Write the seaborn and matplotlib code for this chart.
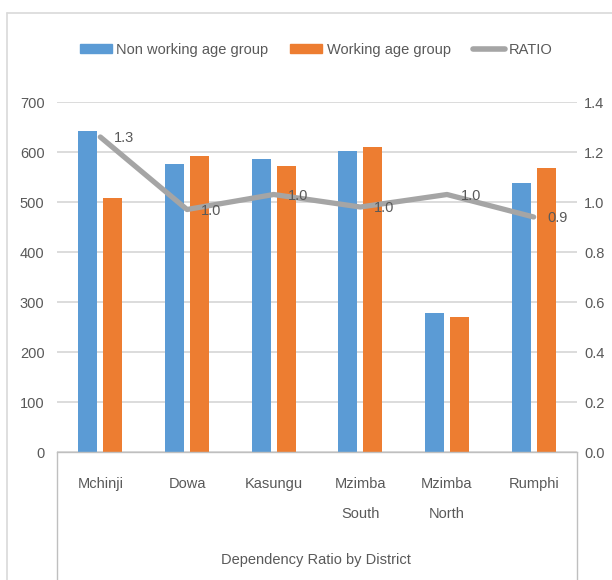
import matplotlib
matplotlib.use("Agg")
import matplotlib.pyplot as plt
from matplotlib.patches import Patch
from matplotlib.lines import Line2D
import pandas as pd
import seaborn as sns

districts = ["Mchinji", "Dowa", "Kasungu", "Mzimba\nSouth", "Mzimba\nNorth", "Rumphi"]
non_working = [643, 577, 587, 603, 279, 539]
working = [509, 592, 572, 610, 271, 569]
ratio = [1.26, 0.97, 1.03, 0.98, 1.03, 0.94]
groups = ["Non working age group", "Working age group"]

BLUE = "#5B9BD5"
ORANGE = "#ED7D31"
GREY = "#A5A5A5"
TEXT = "#595959"
FS = 10.5

sns.set_theme(style="white")
plt.rcParams["font.family"] = ["Liberation Sans", "DejaVu Sans"]
plt.rcParams["text.color"] = TEXT
plt.rcParams["xtick.color"] = TEXT
plt.rcParams["ytick.color"] = TEXT

df = pd.DataFrame({
    "District": districts * 2,
    "Group": [groups[0]] * len(districts) + [groups[1]] * len(districts),
    "Count": non_working + working,
})

fig = plt.figure(figsize=(6.12, 5.8), dpi=100)
ax = fig.add_axes([57 / 612, 1 - 452 / 580, 520 / 612, 350 / 580])

sns.barplot(data=df, x="District", y="Count", hue="Group", order=districts,
            hue_order=groups, palette=[BLUE, ORANGE], saturation=1,
            width=0.576, gap=0.25, linewidth=0, errorbar=None, legend=False, ax=ax)

ax.set_ylim(0, 700)
ax.set_yticks(range(0, 701, 100))
ax.yaxis.grid(True, color="#D9D9D9", lw=1.3)
ax.set_axisbelow(True)
for s in ["left", "right", "top"]:
    ax.spines[s].set_visible(False)
ax.spines["bottom"].set_color("#BFBFBF")
ax.spines["bottom"].set_linewidth(1)
ax.tick_params(axis="y", length=0, pad=9, labelsize=FS)
ax.set_xlabel("")
ax.set_ylabel("")

# category box lines below the axis
for xv in [0, 1]:
    ax.plot([xv, xv], [0, -0.4], transform=ax.transAxes, color="#BFBFBF",
            lw=1, clip_on=False)

ax2 = ax.twinx()
sns.pointplot(x=districts, y=ratio, order=districts, color=GREY, markers="",
              linewidth=3.8, ax=ax2)
ax2.set_ylim(0, 1.4)
ax2.set_yticks([0, 0.2, 0.4, 0.6, 0.8, 1.0, 1.2, 1.4])
ax2.set_yticklabels([f"{v:.1f}" for v in ax2.get_yticks()])
ax2.tick_params(axis="y", length=0, pad=5, labelsize=FS)
for s in ax2.spines.values():
    s.set_visible(False)
ax2.set_ylabel("")
ax2.grid(False)

for i, r in enumerate(ratio):
    ax2.annotate(f"{r:.1f}", (i, r), xytext=(10, -1), textcoords="offset points",
                 ha="left", va="center", fontsize=FS, color=TEXT)

# x tick labels set last so the line spacing sticks
ax.set_xticks(range(len(districts)), districts, linespacing=2.5)
ax.tick_params(axis="x", length=0, pad=18, labelsize=FS)

handles = [Patch(color=BLUE), Patch(color=ORANGE), Line2D([], [], color=GREY, lw=4)]
fig.legend(handles, groups + ["RATIO"], loc="center", bbox_to_anchor=(0.517, 0.914),
           ncol=3, frameon=False, handlelength=2.2, handleheight=0.6,
           handletextpad=0.3, columnspacing=1.5, fontsize=FS)

fig.text(316 / 612, 1 - 560 / 580, "Dependency Ratio by District", ha="center",
         va="center", fontsize=FS, color=TEXT)

# outer chart frame
fig.add_artist(Line2D([7 / 612, 7 / 612], [0, 1 - 13 / 580], color="#D9D9D9", lw=1.2))
fig.add_artist(Line2D([7 / 612, 1], [1 - 13 / 580, 1 - 13 / 580], color="#D9D9D9", lw=1.2))

fig.savefig("out.png", dpi=100)
